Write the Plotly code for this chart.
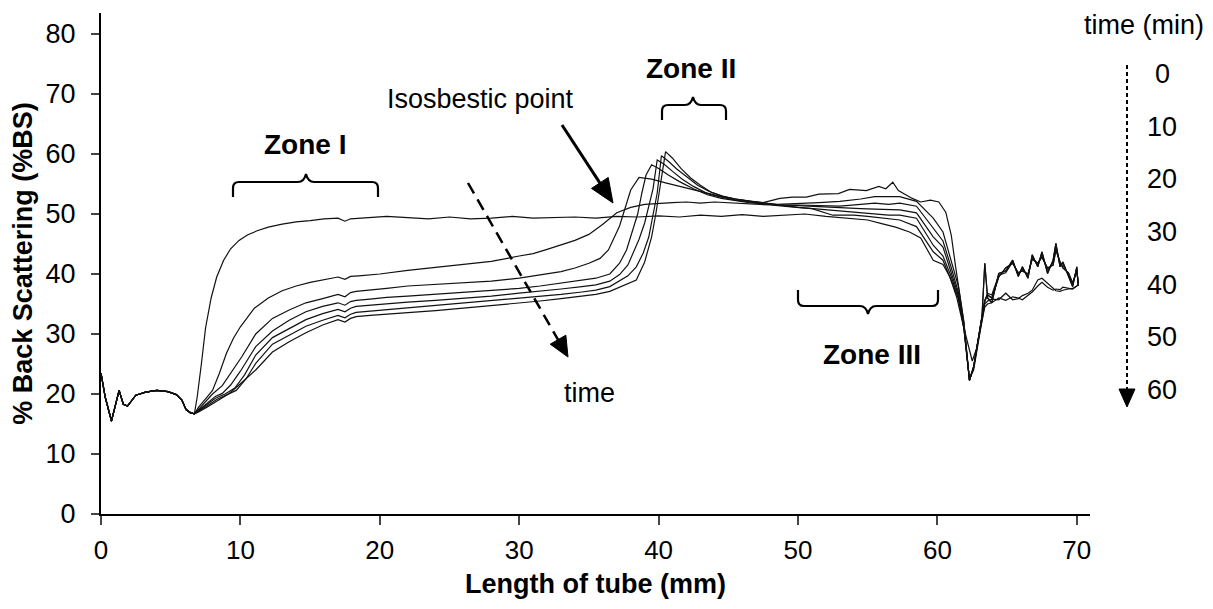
import plotly.graph_objects as go

# ---------------- data ----------------
X_COMMON = [0, 0.3, 0.75, 1.05, 1.3, 1.6, 1.9, 2.5, 3.2, 4.0, 4.8, 5.4, 5.8, 6.1, 6.4, 6.7]
Y_COMMON = [23.5, 19.5, 15.5, 18.5, 20.6, 18.3, 18.0, 19.8, 20.3, 20.6, 20.4, 19.9, 19.0, 17.4, 16.9, 16.7]

T0_X = [6.9, 7.2, 7.5, 7.9, 8.3, 8.8, 9.3, 9.9, 10.5, 11.2, 12, 13, 14, 15, 16, 17, 17.5, 17.9, 18.5, 19.5,
        20.5, 22, 23.5, 25, 26.5, 28, 29.5, 31, 32.5, 34, 35.5, 37, 38.5, 40, 41.5, 43, 44.5, 46, 47.5, 49,
        50.5, 52, 53.5, 55, 56, 57, 58, 58.8, 59.7, 60.4, 60.9, 61.4, 61.9, 62.2, 62.5, 62.8, 63.1]
T0_Y = [19.5, 25, 31, 36, 39.5, 42.3, 44.2, 45.6, 46.5, 47.2, 47.8, 48.3, 48.7, 48.9, 49.2, 49.3, 48.8, 49.2, 49.3, 49.4,
        49.6, 49.4, 49.2, 49.5, 49.2, 49.3, 49.6, 49.3, 49.4, 49.5, 49.3, 49.6, 49.5, 49.7, 49.5, 49.8, 49.6, 49.9, 49.6, 49.8,
        50.0, 49.6, 49.3, 49.0, 48.4, 47.8, 47.0, 46.0, 42.3, 41.6, 39.5, 36, 31, 28, 25.5, 27.5, 31]

T10_X = [7.0, 7.5, 8.0, 8.5, 9.0, 9.5, 10, 11, 12, 13, 14, 15, 16, 17, 17.5, 17.9, 18.5, 20, 22, 24,
         26, 28, 30, 31, 32, 33, 34, 35, 36, 37, 38, 39, 40, 41, 42, 43, 44, 45, 46, 47,
         48, 49.5, 51, 52.5, 54, 55, 56, 57.3, 58.5, 59.7, 60.4, 61, 61.5, 61.9, 62.1, 62.3, 62.6, 63, 63.2]
T10_Y = [17.8, 19.2, 20.6, 23.5, 26.8, 29.3, 31.2, 34.3, 36, 37.2, 38, 38.6, 39, 39.5, 39.1, 39.6, 39.7, 40, 40.6, 41.1,
         41.5, 42.1, 43, 43.4, 44.1, 44.8, 45.6, 46.6, 48.3, 50.2, 51.1, 51.6, 51.8, 51.9, 52, 51.8, 52, 51.9, 51.7, 51.6,
         51.5, 51.2, 50.9, 49.8, 49.8, 49.6, 49.3, 49.0, 47.9, 43.7, 42.3, 39, 36, 31, 27, 22.5, 24, 29.5, 32.5]

T20_X = [7.0, 7.5, 8.0, 8.7, 9.3, 10.1, 11.1, 12.3, 13.5, 14.7, 15.9, 17, 17.5, 17.9, 18.3, 19.3, 20.5, 22, 24, 26,
         28, 30, 31.5, 33, 34, 35, 35.8, 36.4, 36.8, 37.2, 37.6, 38.0, 38.6, 39.5, 40.5, 41.5, 42.5, 43.5, 44.5, 45.5,
         46.5, 47.5, 48.5, 50, 51.5, 53, 54.5, 55.5, 56.5, 57.3, 58.5, 59.7, 60.4, 61, 61.5, 61.9, 62.1, 62.3, 62.6, 63, 63.2]
T20_Y = [17.5, 18.8, 20, 21.4, 23.5, 26.2, 30, 32.6, 34, 35.2, 35.9, 36.6, 36.2, 36.9, 37.1, 37.3, 37.6, 38, 38.3, 38.5,
         38.8, 39.3, 39.8, 40.4, 41, 41.8, 42.6, 44, 46, 48, 51, 54, 56.1, 55.8, 55.2, 54.6, 54, 53.4, 52.9, 52.5,
         52.2, 51.9, 51.6, 51.1, 50.8, 50.5, 50.3, 50.1, 49.8, 49.8, 49.3, 44.8, 43, 39.5, 36, 31, 27, 22.3, 24.5, 30, 33]

T30_X = [7.0, 7.6, 8.2, 8.7, 9.3, 10, 11.1, 12.3, 13.5, 14.7, 15.9, 17, 17.5, 17.9, 18.3, 19.3, 20.5, 22, 24, 26,
         28, 30, 31.5, 33, 34.5, 35.5, 36.5, 37.2, 37.7, 38.1, 38.5, 38.8, 39.1, 39.5, 40, 40.7, 41.5, 42.5, 43.5, 44.5,
         45.5, 46.5, 47.5, 48.5, 50, 51.5, 53, 54.5, 55.5, 56.5, 57.3, 58.5, 59.7, 60.4, 61, 61.5, 61.9, 62.1, 62.3, 62.6,
         63, 63.2]
T30_Y = [17.3, 18.5, 19.6, 20.1, 21.5, 23.8, 27.9, 30.5, 32.3, 33.7, 34.6, 35.2, 34.8, 35.4, 35.6, 35.8, 36.1, 36.3, 36.6, 36.9,
         37.2, 37.6, 38, 38.5, 38.9, 39.3, 40, 41.8, 44, 46.8, 50, 53.5, 56.5, 58.2, 57.6, 56.5, 55.4, 54.2, 53.2, 52.6,
         52.2, 51.9, 51.7, 51.5, 51.4, 51.2, 51, 50.9, 50.8, 50.8, 50.7, 50.2, 46.2, 44.5, 40, 36.5, 31, 27, 22.3, 24.5,
         30, 33]

T40_X = [7.0, 7.6, 8.2, 8.9, 9.6, 10.3, 11.1, 12.3, 13.5, 14.7, 15.9, 17, 17.5, 17.9, 18.3, 19.3, 20.5, 22, 24, 26,
         28, 30, 31.5, 33, 34.5, 35.5, 36.5, 37.2, 37.8, 38.2, 38.6, 39, 39.3, 39.6, 39.9, 40.4, 41, 41.7, 42.5, 43.5,
         44.5, 45.5, 46.5, 47.5, 48.5, 50, 51.5, 53, 54.5, 55.5, 56.5, 57.3, 58.5, 59.7, 60.4, 61, 61.5, 61.9, 62.1, 62.3,
         62.6, 63, 63.2]
T40_Y = [17.2, 18.2, 19.3, 20.0, 21, 23.2, 26.5, 29.4, 30.9, 32.4, 33.4, 34.1, 33.7, 34.3, 34.6, 34.8, 35.1, 35.3, 35.6, 35.9,
         36.3, 36.8, 37.1, 37.5, 37.9, 38.2, 38.8, 39.9, 41.5, 43.7, 45.8, 48.5, 51.2, 54.2, 59, 58.3, 57.1, 55.8, 54.6, 53.4,
         52.8, 52.3, 52, 51.7, 51.5, 51.5, 51.4, 51.3, 51.6, 51.8, 51.6, 51.8, 51.3, 47.6, 45.5, 41, 37, 31.5, 27, 22.3,
         24.5, 30, 33]

T50_X = [7.0, 7.6, 8.3, 9.0, 9.7, 10.4, 11.1, 12.3, 13.5, 14.7, 15.9, 17, 17.5, 17.9, 18.3, 19.3, 20.5, 22, 24, 26,
         28, 30, 31.5, 33, 34.5, 35.5, 36.5, 37.2, 37.8, 38.4, 38.9, 39.3, 39.6, 39.9, 40.2, 40.7, 41.3, 42, 42.8, 43.6,
         44.5, 45.5, 46.5, 47.5, 48.5, 50, 51.5, 53, 54.5, 55.5, 56.5, 57.3, 58.5, 59.7, 60.4, 61, 61.5, 61.9, 62.1, 62.3,
         62.6, 63, 63.2]
T50_Y = [17.1, 18, 19.1, 19.9, 20.6, 22.5, 25.1, 28.3, 29.8, 31.3, 32.3, 33.1, 32.7, 33.3, 33.6, 33.8, 34.1, 34.4, 34.8, 35.1,
         35.5, 35.9, 36.2, 36.6, 37, 37.3, 37.9, 38.8, 39.7, 41.2, 43.5, 46.2, 49.6, 53.5, 59.7, 58.8, 57.5, 56.2, 54.8, 53.8,
         53, 52.5, 52.1, 51.8, 51.6, 51.7, 51.9, 52.1, 52.5, 52.9, 52.9, 52.9, 52.1, 49.3, 47, 42, 38, 32, 27, 22.3,
         24.5, 30, 33]

T60_X = [7.0, 7.6, 8.4, 9.2, 9.9, 10.5, 11.1, 12.3, 13.5, 14.7, 15.9, 17, 17.5, 17.9, 18.3, 19.3, 20.5, 22, 24, 26,
         28, 30, 31.5, 33, 34.5, 35.5, 36.5, 37.2, 37.8, 38.4, 39, 39.5, 39.8, 40.1, 40.5, 41, 41.6, 42.3, 43, 43.8,
         44.6, 45.5, 46.5, 47.5, 48.7, 49.6, 50.6, 51.5, 52.9, 53.7, 54.9, 55.8, 56.3, 56.8, 57.2, 58.2, 58.8, 59.5, 60.1, 60.6,
         61, 61.3, 61.6, 61.9, 62.1, 62.3, 62.6, 63, 63.2]
T60_Y = [17, 17.8, 19, 20.1, 21.5, 22.8, 24.0, 27, 28.7, 30.2, 31.5, 32.4, 32.0, 32.6, 32.9, 33.1, 33.3, 33.5, 33.9, 34.3,
         34.7, 35.2, 35.5, 35.9, 36.3, 36.6, 37.1, 37.8, 38.5, 39, 42, 46.2, 50, 54.5, 60.4, 59.3, 57.6, 56, 54.8, 53.6,
         53, 52.5, 52.1, 51.9, 52.6, 52.8, 52.8, 53.3, 53.4, 54.1, 53.9, 54.6, 54.2, 55.3, 53.9, 52.6, 52, 52.3, 52, 50.3,
         46.4, 41.3, 37, 32, 27, 22.3, 24.5, 30, 33]

TAIL_X = [63.4, 63.6, 63.9, 64.4, 64.9, 65.4, 65.8, 66.1, 66.5, 66.8, 67.2, 67.5, 67.9, 68.3, 68.5, 68.8, 69.0, 69.4, 69.7, 70.0, 70.1]
TAIL_LOW_A = [34.5, 35, 35.2, 36, 35.6, 36.2, 36, 35.7, 36.4, 37, 38, 38.6, 37.8, 37.3, 37.5, 37.4, 37.8, 37.6, 37.5, 38, 38.2]
TAIL_LOW_B = [35, 35.5, 35.8, 35.7, 36.8, 35.7, 35.9, 36.4, 36.8, 37.3, 39, 39.3, 38.5, 37.6, 37.2, 37.1, 37.3, 37.5, 37.6, 38, 38.2]
TAIL_UP_C = [41.8, 36, 35.2, 40.1, 40.5, 42.3, 39.6, 41.2, 39.3, 43.2, 41.2, 43.7, 40.1, 42.3, 45.1, 41.2, 42, 39.6, 37.9, 41.2, 38]
TAIL_UP_D = [35.5, 36.5, 36, 39.5, 41, 41.8, 40.2, 40.5, 40, 42.5, 41.8, 42.8, 41, 41.5, 44, 42, 41, 40.2, 38.5, 40.5, 38.5]
TAIL_UP_E = [35.6, 36.8, 36.5, 39.8, 40.2, 42, 39.9, 40.8, 39.6, 42.8, 41.5, 43.3, 40.6, 41.9, 44.6, 41.6, 41.5, 39.9, 38.2, 40.9, 38.3]

CURVES = [
    ("0 min", T0_X, T0_Y, TAIL_LOW_A),
    ("10 min", T10_X, T10_Y, TAIL_LOW_B),
    ("20 min", T20_X, T20_Y, TAIL_UP_C),
    ("30 min", T30_X, T30_Y, TAIL_UP_D),
    ("40 min", T40_X, T40_Y, TAIL_UP_E),
    ("50 min", T50_X, T50_Y, TAIL_UP_D),
    ("60 min", T60_X, T60_Y, TAIL_UP_C),
]

TIME_LABELS = ["0", "10", "20", "30", "40", "50", "60"]
X_TICKS = [0, 10, 20, 30, 40, 50, 60, 70]
Y_TICKS = [0, 10, 20, 30, 40, 50, 60, 70, 80]

# ---------------- geometry (layout only) ----------------
OFF = 8                       # browser default body margin
W, H = 1213 - OFF, 609 - OFF  # figure size so the page fits the window
PL, PR, PT, PB = 101, 1090, 13, 514   # plot box in window pixels
ML, MT = PL - OFF, PT - OFF
MR, MB = W - (PR - OFF), H - (PB - OFF)
PW, PH = PR - PL, PB - PT
FONT = "Liberation Sans, Arial, sans-serif"


def px(x):
    return (x - PL) / PW


def py(y):
    return (PB - y) / PH


def brace(L, R, Hh, B, M, P):
    r = 6 if B > Hh else -6
    pts = [
        f"M {px(L)},{py(B)}", f"L {px(L)},{py(Hh + r)}", f"Q {px(L)},{py(Hh)} {px(L + 6)},{py(Hh)}",
        f"L {px(M - 8)},{py(Hh)}", f"Q {px(M - 2)},{py(Hh)} {px(M)},{py(P)}",
        f"Q {px(M + 2)},{py(Hh)} {px(M + 8)},{py(Hh)}",
        f"L {px(R - 6)},{py(Hh)}", f"Q {px(R)},{py(Hh)} {px(R)},{py(Hh + r)}", f"L {px(R)},{py(B)}",
    ]
    return dict(type="path", xref="paper", yref="paper", path=" ".join(pts),
                line=dict(color="black", width=2.2))


def arrow(x0, y0, x1, y1, dash, width, head_len, head_w):
    dx, dy = x1 - x0, y1 - y0
    ln = (dx * dx + dy * dy) ** 0.5
    ux, uy = dx / ln, dy / ln
    bx, by = x1 - ux * head_len, y1 - uy * head_len
    nx, ny = -uy, ux
    shapes = [dict(type="line", xref="paper", yref="paper",
                   x0=px(x0), y0=py(y0), x1=px(bx + ux * 2), y1=py(by + uy * 2),
                   line=dict(color="black", width=width, dash=dash))]
    tri = (f"M {px(x1)},{py(y1)} L {px(bx + nx * head_w)},{py(by + ny * head_w)} "
           f"L {px(bx - nx * head_w)},{py(by - ny * head_w)} Z")
    shapes.append(dict(type="path", xref="paper", yref="paper", path=tri,
                       fillcolor="black", line=dict(color="black", width=1)))
    return shapes


# ---------------- figure ----------------
fig = go.Figure()
for name, bx, by, tail in CURVES:
    xs = X_COMMON + bx + TAIL_X
    ys = Y_COMMON + by + tail
    assert len(xs) == len(ys), name
    fig.add_trace(go.Scatter(x=xs, y=ys, mode="lines", name=name,
                             line=dict(color="#111111", width=1.2), hoverinfo="skip"))

shapes = []
shapes.append(brace(233, 378, 182, 197, 306, 174))
shapes.append(brace(662, 726, 105, 120, 693, 97))
shapes.append(brace(798, 938, 306, 290, 868, 314))
shapes += arrow(468, 183, 568, 357, "12px,7px", 2.5, 20, 9)
shapes += arrow(562, 125, 613, 203, "solid", 3, 24, 10)
shapes += arrow(1127, 65, 1127, 407, "4px,3px", 2, 18, 8)

annotations = []


def text(t, x, y, size=28, bold=False):
    annotations.append(dict(text=f"<b>{t}</b>" if bold else t, x=px(x), y=py(y),
                            xref="paper", yref="paper", showarrow=False,
                            xanchor="center", yanchor="middle",
                            font=dict(family=FONT, size=size, color="black")))


text("Zone I", 305, 145, bold=True)
text("Zone II", 691, 68, bold=True)
text("Zone III", 872, 354, bold=True)
text("Isosbestic point", 480, 99, size=27)
text("time", 589, 393, size=27)
text("time (min)", 1144, 25, size=27)
for i, lab in enumerate(TIME_LABELS):
    text(lab, 1162, 74 + i * 52.67, size=27)

fig.update_layout(
    width=W, height=H,
    margin=dict(l=ML, r=MR, t=MT, b=MB, autoexpand=False),
    paper_bgcolor="white", plot_bgcolor="white",
    showlegend=False,
    font=dict(family=FONT, color="black", size=26),
    shapes=shapes, annotations=annotations,
    xaxis=dict(range=[0, PW / 13.94], tickvals=X_TICKS, ticks="outside", ticklen=9, tickwidth=2,
               showline=True, linecolor="black", linewidth=2, showgrid=False, zeroline=False,
               automargin=False, ticklabelstandoff=3,
               tickfont=dict(size=26, family=FONT),
               title=dict(text="<b>Length of tube (mm)</b>", font=dict(size=27, family=FONT), standoff=10)),
    yaxis=dict(range=[0, PH / 6.0], tickvals=Y_TICKS, ticks="outside", ticklen=8, tickwidth=2,
               showline=True, linecolor="black", linewidth=2, showgrid=False, zeroline=False,
               automargin=False, ticklabelstandoff=10,
               tickfont=dict(size=27, family=FONT),
               title=dict(text="<b>% Back Scattering (%BS)</b>", font=dict(size=27, family=FONT), standoff=12)),
)

fig.write_html("out.html")
